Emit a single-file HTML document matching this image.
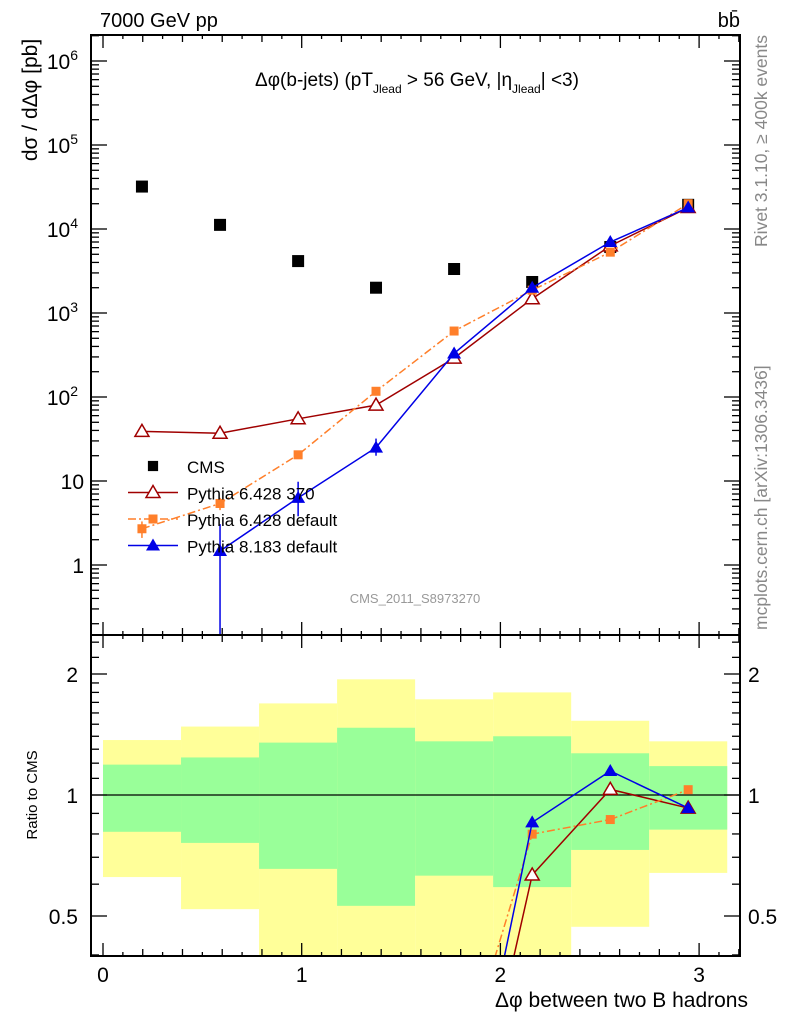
<!DOCTYPE html>
<html><head><meta charset="utf-8"><style>
html,body{margin:0;padding:0;background:#fff;width:786px;height:1024px;overflow:hidden}
svg{display:block;font-family:"Liberation Sans",sans-serif}
</style></head><body>
<svg id="c" width="786" height="1024" viewBox="0 0 786 1024">
<defs>
<clipPath id="cm"><rect x="91" y="35" width="649" height="600"/></clipPath>
<clipPath id="cr"><rect x="91" y="635" width="649" height="321"/></clipPath>
</defs>
<g id="bands" clip-path="url(#cr)"></g>
<g id="main" clip-path="url(#cm)"></g>
<g id="ratio" clip-path="url(#cr)"></g>
<g id="axes"></g>
<text x="100" y="27" font-size="20">7000 GeV pp</text>
<text x="740" y="27" font-size="20" text-anchor="end">bb̄</text>
<text x="417" y="86" font-size="19" text-anchor="middle">Δφ(b-jets) (pT<tspan font-size="12" dy="7">Jlead</tspan><tspan dy="-7"> &gt;  56 GeV, |η</tspan><tspan font-size="12" dy="7">Jlead</tspan><tspan dy="-7">| &lt;3)</tspan></text>
<text x="415" y="603" font-size="13" fill="#999" text-anchor="middle">CMS_2011_S8973270</text>
<text transform="translate(767,35) rotate(-90)" font-size="17.5" fill="#888" text-anchor="end">Rivet 3.1.10, ≥ 400k events</text>
<text transform="translate(767,630) rotate(-90)" font-size="17.5" fill="#888">mcplots.cern.ch [arXiv:1306.3436]</text>
<text transform="translate(37,100) rotate(-90)" font-size="21" text-anchor="middle">dσ / dΔφ [pb]</text>
<text transform="translate(37,795) rotate(-90)" font-size="15" text-anchor="middle">Ratio to CMS</text>
<text x="748" y="1007" font-size="21" text-anchor="end">Δφ between two B hadrons</text>
<g id="legend"></g>
</svg>
<script>
const centers=[0.196,0.589,0.982,1.374,1.767,2.160,2.553,2.945];
const cms=[32000,11200,4150,2000,3340,2340,6100,19400];
const p370=[39,37,55,80,290,1480,6300,18000];
const p6def=[2.7,5.4,20.5,117,610,1870,5300,20000];
const p6err=[0.6,0.9,1.5,5,15,30,60,200];
const p8=[null,1.47,6.3,25,330,2000,7000,18000];
const p8errUp=[0,1.6,3.5,7,20,40,100,300];
const p8errDn=[0,1.46,2.5,5,20,40,100,300];
const yellowHi=[1.37,1.48,1.69,1.94,1.73,1.80,1.53,1.36];
const yellowLo=[0.625,0.52,0.3,0.3,0.3,0.3,0.47,0.64];
const greenHi=[1.19,1.24,1.35,1.47,1.36,1.40,1.27,1.18];
const greenLo=[0.81,0.76,0.655,0.53,0.63,0.59,0.73,0.82];
const xTicks=[0,1,2,3];
const ratioTicks=[0.5,1,2];
const NS='http://www.w3.org/2000/svg';
const X=v=>103+198.7*v;
const Y=v=>565-84*Math.log10(v);
const R=v=>795-121*Math.log2(v);
const bw=Math.PI/8;
function mk(t,a,p){const e=document.createElementNS(NS,t);for(const k in a)e.setAttribute(k,a[k]);(p||document.getElementById('axes')).appendChild(e);return e;}
const gB=document.getElementById('bands'),gM=document.getElementById('main'),gR=document.getElementById('ratio'),gA=document.getElementById('axes'),gL=document.getElementById('legend');
for(let i=0;i<8;i++){
 const x0=X(i*bw),x1=X((i+1)*bw);
 let r=mk('rect',{x:x0,y:R(yellowHi[i]),width:x1-x0,height:R(yellowLo[i])-R(yellowHi[i]),fill:'#ffff99'},gB);
 
 r=mk('rect',{x:x0,y:R(greenHi[i]),width:x1-x0,height:R(greenLo[i])-R(greenHi[i]),fill:'#99ff99'},gB);
 
}
let ln=mk('line',{x1:91,x2:740,y1:R(1),y2:R(1),stroke:'#000','stroke-width':1.3},gB);

function marker(type,x,y,col,g,s){
 s=s||1;let e;
 if(type==='sq')e=mk('rect',{x:x-6*s,y:y-6*s,width:12*s,height:12*s,fill:col},g);
 else if(type==='sqs')e=mk('rect',{x:x-4.5*s,y:y-4.5*s,width:9*s,height:9*s,fill:col},g);
 else if(type==='tri')e=mk('polygon',{points:`${x},${y-7} ${x-7},${y+5} ${x+7},${y+5}`,fill:col},g);
 else e=mk('polygon',{points:`${x},${y-7} ${x-7},${y+5} ${x+7},${y+5}`,fill:'#fff',stroke:col,'stroke-width':1.5},g);
 return e;
}
function series(vals,type,col,dash,name,errU,errD){
 const pts=[],rpts=[];
 vals.forEach((v,i)=>{if(v==null)return;pts.push([X(centers[i]),Y(v)]);rpts.push([X(centers[i]),R(v/cms[i])]);});
 let p=mk('polyline',{points:pts.map(q=>q.join(',')).join(' '),fill:'none',stroke:col,'stroke-width':1.5,'stroke-dasharray':dash||'none'},gM);
 
 p=mk('polyline',{points:rpts.map(q=>q.join(',')).join(' '),fill:'none',stroke:col,'stroke-width':1.5,'stroke-dasharray':dash||'none'},gR);
 
 vals.forEach((v,i)=>{if(v==null)return;const x=X(centers[i]);
  if(errU){const lo=Math.max(v-errD[i],1e-3);
   const e=mk('line',{x1:x,x2:x,y1:Y(v+errU[i]),y2:Y(lo),stroke:col,'stroke-width':1.5},gM);
   }
  let m=marker(type,x,Y(v),col,gM);
  m=marker(type,x,R(v/cms[i]),col,gR);
 });
}
cms.forEach((v,i)=>{const m=marker('sq',X(centers[i]),Y(v),'#000',gM);});
series(p370,'otri','#a00000',null,'pythia6-370');
series(p6def,'sqs','#ff7f2a','8,3,2,3','pythia6-default',p6err,p6err);
series(p8,'tri','#0000e6',null,'pythia8-default',p8errUp,p8errDn);
[[35,635],[635,956]].forEach(([t,b])=>{const f=mk('rect',{x:91,y:t,width:649,height:b-t,fill:'none',stroke:'#000','stroke-width':2});});
for(let k=0;k<=32;k++){const v=k/10,x=X(v);if(x>740)break;
 const L=k%10===0?13:(k%2===0?7:4);
 [[35,1],[635,-1],[635,1],[956,-1]].forEach(([y,d])=>{const t=mk('line',{x1:x,x2:x,y1:y,y2:y+d*L,stroke:'#000','stroke-width':1.3});});
}
xTicks.forEach(v=>{const t=mk('text',{x:X(v),y:982,'font-size':21,'text-anchor':'middle'});t.textContent=v;});
for(let d=-1;d<=6;d++)for(let m=1;m<10;m++){const v=m*Math.pow(10,d),y=Y(v);if(y<35||y>635)continue;
 const L=m===1?16:8;
 [[91,1],[740,-1]].forEach(([x,s])=>{const t=mk('line',{x1:x,x2:x+s*L,y1:y,y2:y,stroke:'#000','stroke-width':1.3});});
}
const yLab=[[1,'1'],[10,'10'],[100,'10','2'],[1000,'10','3'],[1e4,'10','4'],[1e5,'10','5'],[1e6,'10','6']];
yLab.forEach(([v,b,e])=>{const t=mk('text',{x:e?78:84,y:Y(v)+8,'font-size':21,'text-anchor':'end'});t.textContent=b;
 if(e){const s=mk('tspan',{'font-size':14,dy:-9},t);s.textContent=e;}
 });
const rminor=[0.4,0.5,0.6,0.7,0.8,0.9,1,1.1,1.2,1.3,1.4,1.5,1.6,1.7,1.8,1.9,2,2.2,2.4];
rminor.forEach(v=>{const y=R(v);if(y<635||y>956)return;const L=ratioTicks.includes(v)?16:8;
 [[91,1],[740,-1]].forEach(([x,s])=>{const t=mk('line',{x1:x,x2:x+s*L,y1:y,y2:y,stroke:'#000','stroke-width':1.3});});});
ratioTicks.forEach(v=>{[[78,'end'],[748,'start']].forEach(([x,a])=>{const t=mk('text',{x:x,y:R(v)+8,'font-size':21,'text-anchor':a});t.textContent=v;});});
const leg=[['CMS','sq','#000',null],['Pythia 6.428 370','otri','#a00000',null],['Pythia 6.428 default','sqs','#ff7f2a','8,3,2,3'],['Pythia 8.183 default','tri','#0000e6',null]];
leg.forEach(([txt,ty,col,dash],i)=>{const y=466+26.5*i;
 const g=mk('g',{},gL);
 if(i>0)mk('line',{x1:128,x2:178,y1:y,y2:y,stroke:col,'stroke-width':1.5,'stroke-dasharray':dash||'none'},g);
 marker(ty,153,y,col,g,ty==='sq'?0.85:1);
 const t=mk('text',{x:187,y:y+7,'font-size':17},g);t.textContent=txt;});
</script>
</body></html>
